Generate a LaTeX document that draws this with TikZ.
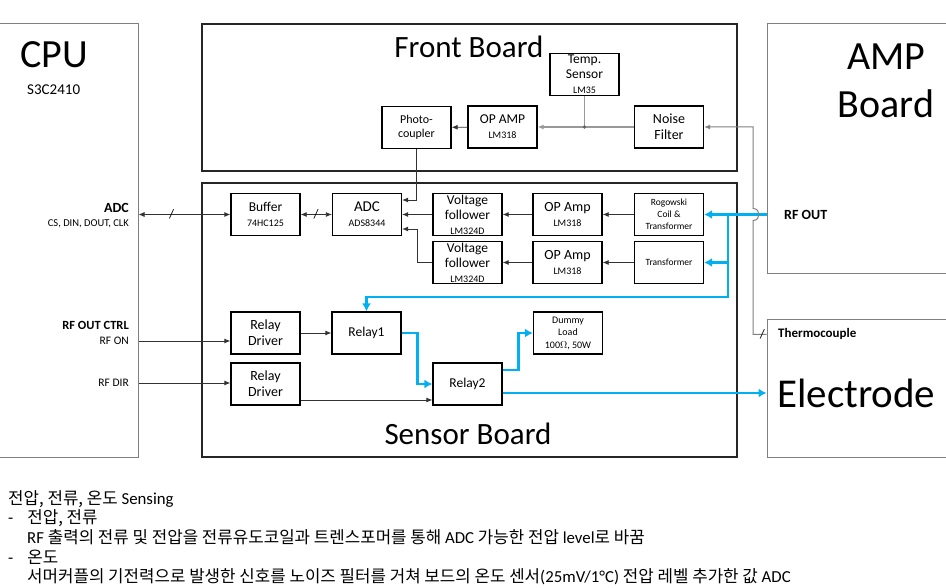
\documentclass[tikz,border=0pt]{standalone}
\usepackage{fontspec}
\setmainfont{Carlito}
\newfontfamily\kr{Noto Sans CJK KR}
\usetikzlibrary{arrows.meta}
\definecolor{rfblue}{RGB}{0,176,240}
\newcommand{\fsz}[2]{\fontsize{#1}{#2}\selectfont}
\newcommand{\pn}[1]{{\fsz{10}{14}#1}}
\tikzset{>={Latex[width=5pt,length=6pt]}}
\tikzset{
  board/.style={draw=black!85, line width=2pt, minimum width=535, minimum height=#1},
  outer/.style={draw=black!50, line width=1pt},
  comp/.style={draw=black, line width=1.3pt, minimum width=69, minimum height=42,
    inner sep=0pt, align=center, font=\fsz{13.5}{15}},
  wire/.style={draw=black!80, line width=0.8pt},
  grayline/.style={draw=black!40, line width=1.5pt},
  tcline/.style={draw=black!50, line width=1pt},
  rf/.style={draw=rfblue, line width=2.6pt, >={Latex[width=9pt,length=8pt]}},
  slash/.style={font=\fsz{13}{13}, inner sep=0pt},
  lbl/.style={anchor=east, inner sep=0pt, font=\fsz{11.5}{12}},
  note/.style={anchor=west, inner sep=0pt, font=\fsz{16.8}{18}}
}

\begin{document}
\begin{tikzpicture}[x=1pt,y=-1pt]
    \fill[white] (0,0) rectangle (946,588);
    \useasboundingbox (0,0) rectangle (946,588);

    \node[outer, minimum width=160, minimum height=433] (CPU) at (58,240.5) {};
    \node[board=147] (FB) at (469.5,97.5) {};
    \node[board=274] (SB) at (469.5,320) {};
    \node[outer, minimum width=200, minimum height=250] (AMP) at (867,149) {};
    \node[outer, minimum width=200, minimum height=137] (Elec) at (867,388.5) {};

    \node[font=\fsz{40}{40}] (CPUt) at (54,55) {CPU};
    \node[anchor=west, inner sep=0pt, font=\fsz{15}{15}] (CPUs) at (27,90) {S3C2410};
    \node[anchor=base, inner sep=0pt, font=\fsz{31}{31}] (FBt) at (469,58) {Front Board};
    \node[anchor=base, inner sep=0pt, font=\fsz{31}{31}] (SBt) at (468,444) {Sensor Board};
    \node[anchor=base, inner sep=0pt, font=\fsz{40}{40}] (AMPt1) at (886,70) {AMP};
    \node[anchor=base, inner sep=0pt, font=\fsz{40}{40}] (AMPt2) at (886,118) {Board};
    \node[anchor=base west, inner sep=0pt, font=\fsz{41}{41}] (Elect) at (777,407) {Electrode};
    \node[anchor=west, inner sep=0pt, font=\fsz{14}{14}\bfseries] (rfout) at (784,215) {RF OUT};
    \node[anchor=west, inner sep=0pt, font=\fsz{13}{13}\bfseries] (tcouple) at (778,334) {Thermocouple};

    \node[lbl, font=\fsz{14}{14}\bfseries] (adcl) at (129,208) {ADC};
    \node[lbl, font=\fsz{10.5}{11}] (adcs) at (129,224) {CS, DIN, DOUT, CLK};
    \node[lbl, font=\fsz{12.5}{13}\bfseries] (ctrl) at (129,325) {RF OUT CTRL};
    \node[lbl] (rfon) at (129,341) {RF ON};
    \node[lbl] (rfdir) at (129,383) {RF DIR};

    \node[comp] (Temp) at (584.5,74.5) {Temp.\\Sensor\\\pn{LM35}};
    \node[comp, font=\fsz{12}{14}] (Photo) at (416.5,127.5) {Photo-\\coupler};
    \node[comp] (OPAMP) at (502.5,127) {OP AMP\\\pn{LM318}};
    \node[comp, font=\fsz{14}{16}] (Noise) at (669,127) {Noise\\Filter};

    \node[comp] (Buf) at (265.5,214.5) {Buffer\\\pn{74HC125}};
    \node[comp, font=\fsz{15}{15}] (ADC) at (367,214.5) {ADC\\\pn{ADS8344}};
    \node[comp] (VF1) at (467.5,214.5) {Voltage\\follower\\\pn{LM324D}};
    \node[comp] (VF2) at (467.5,262.5) {Voltage\\follower\\\pn{LM324D}};
    \node[comp, font=\fsz{14}{15}] (Amp1) at (567.5,214.5) {OP Amp\\\pn{LM318}};
    \node[comp, font=\fsz{14}{15}] (Amp2) at (567.5,262.5) {OP Amp\\\pn{LM318}};
    \node[comp, font=\fsz{9.5}{12}] (Rog) at (669,214.5) {Rogowski\\Coil \&\\Transformer};
    \node[comp, font=\fsz{9.5}{12}] (Trans) at (669,262.5) {Transformer};

    \node[comp, font=\fsz{14}{16}] (RD1) at (265.5,333) {Relay\\Driver};
    \node[comp, font=\fsz{14}{16}] (RD2) at (265.5,384) {Relay\\Driver};
    \node[comp] (Rel1) at (366.5,333) {Relay1};
    \node[comp] (Rel2) at (467.5,384) {Relay2};
    \node[comp, font=\fsz{10}{12.5}] (Dummy) at (568,333) {Dummy\\Load\\100$\Omega$, 50W};

    \draw[grayline, ->] (Noise) -- (OPAMP);
    \draw[grayline] (Temp.south) -- (Temp.south |- OPAMP.east);
    \fill[black!60] (Temp.south |- OPAMP.east) circle (1.8pt);
    \draw[wire, ->] (OPAMP) -- (Photo);

    \draw[wire, <->] (CPU.east |- Buf.west) -- node[slash, pos=0.36] {/} (Buf.west);
    \draw[wire, <->] (Buf) -- node[slash] {/} (ADC);
    \draw[wire, ->] (Photo.south) |- ([yshift=14.5pt]ADC.east);
    \draw[wire, ->] (VF1) -- (ADC);
    \draw[wire, ->] (VF2.west) -- ++(-15,0) |- ([yshift=-14.5pt]ADC.east);
    \draw[wire, ->] (Amp1) -- (VF1);
    \draw[wire, ->] (Amp2) -- (VF2);
    \draw[wire, ->] (Rog) -- (Amp1);
    \draw[wire, ->] (Trans) -- (Amp2);

    \coordinate (rfj) at (728,214.5);
    \coordinate (bus) at (728,297);
    \coordinate (hop) at (753,214.5);
    \coordinate (hb) at ([yshift=-6pt]hop);
    \coordinate (ht) at ([yshift=6pt]hop);
    \coordinate (tc) at ([yshift=-15pt]Elec.north west);
    \draw[rf, ->] (AMP.west |- Rog.east) -- (Rog.east);
    \draw[rf, ->] (rfj) -- (bus) -| (Rel1.north);
    \draw[rf, ->] (bus |- Trans.east) -- (Trans.east);

    \draw[tcline, ->] (tc) -- node[slash, pos=0.3] {/} (tc -| hop) -- (hb)
        .. controls ([xshift=8pt]hb) and ([xshift=8pt]ht) .. (ht) |- (Noise.east);

    \draw[wire, ->] (rfon.east -| CPU.east) -- (rfon.east -| RD1.west);
    \draw[wire, ->] (rfdir.east -| CPU.east) -- (rfdir.east -| RD2.west);
    \draw[wire, ->] (RD1) -- (Rel1);
    \coordinate (rd2o) at ([yshift=-16pt]RD2.east);
    \draw[wire, ->] (rd2o) -- (rd2o -| Rel2.west);

    \draw[rf, ->] (Rel1.east) -- ++(16,0) |- (Rel2.west);
    \coordinate (r2a) at ([yshift=14pt]Rel2.east);
    \coordinate (r2b) at ([yshift=-9pt]Rel2.east);
    \draw[rf, ->] (r2a) -- ++(16,0) |- (Dummy.west);
    \draw[rf, ->] (r2b) -- (r2b -| Elec.west);

    \node[note] (N1) at (8,499) {{\kr 전압, 전류, 온도} Sensing};
    \node[note] (N2) at (8,518) {-\hspace{14pt}{\kr 전압, 전류}};
    \node[note] (N3) at (27,537) {RF {\kr 출력의 전류 및 전압을 전류유도코일과 트렌스포머를 통해} ADC {\kr 가능한 전압} level{\kr 로 바꿈}};
    \node[note] (N4) at (8,557) {-\hspace{14pt}{\kr 온도}};
    \node[note] (N5) at (27,577) {{\kr 서머커플의 기전력으로 발생한 신호를 노이즈 필터를 거쳐 보드의 온도 센서}(25mV/1°C) {\kr 전압 레벨 추가한 값} ADC};
\end{tikzpicture}
\end{document}
